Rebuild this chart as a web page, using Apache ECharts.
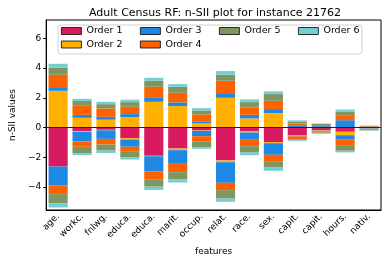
<!DOCTYPE html>
<html>
<head>
<meta charset="utf-8">
<script src="https://cdn.jsdelivr.net/npm/echarts@6/dist/echarts.min.js"></script>
<style>html,body{margin:0;padding:0;background:#fff}#c{width:388px;height:264px}</style>
</head>
<body>
<div id="c"></div>
<script>
const features = ['age.','workc.','fnlwg.','educa.','educa.','marit.','occup.','relat.','race.','sex.','capit.','capit.','hours.','nativ.'];
const orderNames = ['Order 1','Order 2','Order 3','Order 4','Order 5','Order 6'];
const orderColors = ['#D81B60','#FFB000','#1E88E5','#FE6100','#7F975F','#74CED2'];
const yTicks = [-4,-2,0,2,4,6];

// positive and negative contributions per order
const order1Pos = [0,0,0,0,0,0,0,0,0,0,0,0,0,0];
const order1Neg = [-2.63,-0.25,-0.16,-0.72,-1.91,-1.42,-0.20,-2.22,-0.27,-0.99,-0.52,-0.18,-0.29,-0.05];
const order2Pos = [2.47,0.65,0.52,0.70,1.73,1.44,0.27,2.00,0.61,0.97,0,0.03,0,0.01];
const order2Neg = [0,-0.05,-0.03,-0.09,-0.03,-0.11,-0.03,-0.12,-0.07,-0.07,-0.03,-0.04,-0.23,-0.02];
const order3Pos = [0.25,0.20,0.20,0.20,0.31,0.25,0.11,0.31,0.24,0.27,0.15,0.06,0.49,0.03];
const order3Neg = [-1.26,-0.64,-0.58,-0.49,-1.03,-0.92,-0.36,-1.39,-0.49,-0.78,-0.05,-0.04,-0.27,-0.03];
const order4Pos = [0.83,0.61,0.56,0.49,0.70,0.65,0.50,0.84,0.50,0.56,0.12,0.07,0.29,0.03];
const order4Neg = [-0.60,-0.36,-0.38,-0.34,-0.52,-0.56,-0.36,-0.49,-0.43,-0.47,-0.20,-0.08,-0.45,-0.05];
const order5Pos = [0.47,0.32,0.29,0.32,0.41,0.40,0.27,0.40,0.36,0.45,0.14,0.08,0.27,0.04];
const order5Neg = [-0.63,-0.43,-0.41,-0.36,-0.50,-0.47,-0.38,-0.57,-0.43,-0.39,-0.06,-0.06,-0.33,-0.05];
const order6Pos = [0.27,0.15,0.16,0.16,0.20,0.18,0.15,0.25,0.18,0.18,0.07,0.03,0.16,0.02];
const order6Neg = [-0.27,-0.14,-0.16,-0.16,-0.22,-0.23,-0.11,-0.22,-0.18,-0.22,-0.06,-0.03,-0.11,-0.02];

const posData = [order1Pos,order2Pos,order3Pos,order4Pos,order5Pos,order6Pos];
const negData = [order1Neg,order2Neg,order3Neg,order4Neg,order5Neg,order6Neg];

const FONT = 'DejaVu Sans';
const series = [];
for (let k = 0; k < 6; k++) {
  [posData[k], negData[k]].forEach(function (d) {
    series.push({
      type: 'bar', name: orderNames[k], stack: 'n', data: d,
      barWidth: '80%',
      itemStyle: { color: orderColors[k] },
      emphasis: { disabled: true },
      animation: false
    });
  });
}
series[0].markLine = {
  silent: true, symbol: 'none', animation: false,
  label: { show: false },
  lineStyle: { color: '#222', width: 1.2, type: 'solid' },
  data: [{ yAxis: 0 }]
};
series[0].z = 2;

const legendCols = [61, 140, 219, 298];
const legendRows = [26, 39.5];
const legendPos = [[0,0],[0,1],[1,0],[1,1],[2,0],[3,0]];
const legends = orderNames.map(function (n, i) {
  return {
    data: [n], left: legendCols[legendPos[i][0]], top: legendRows[legendPos[i][1]],
    padding: 0, itemWidth: 20, itemHeight: 7, icon: 'rect', selectedMode: false, z: 20,
    itemStyle: { borderColor: '#000', borderWidth: 0.8 },
    textStyle: { fontFamily: FONT, fontSize: 9.5, color: '#000' }
  };
});

const chart = echarts.init(document.getElementById('c'), null, { renderer: 'canvas' });
chart.setOption({
  animation: false,
  title: {
    text: 'Adult Census RF: n-SII plot for instance 21762',
    left: 210, top: 3, textAlign: 'center',
    textStyle: { fontFamily: FONT, fontSize: 11, fontWeight: 'normal', color: '#000' }
  },
  legend: legends,
  graphic: [{
    type: 'rect', shape: { x: 58, y: 25, width: 304, height: 29, r: 3 },
    style: { fill: 'rgba(255,255,255,0.8)', stroke: '#d0d0d0', lineWidth: 1 }, z: 3, silent: true
  }],
  grid: { left: 39, right: 7, top: 20, bottom: 54, show: true, borderColor: '#000', borderWidth: 1, backgroundColor: 'transparent' },
  xAxis: {
    type: 'category', data: features,
    name: 'features', nameLocation: 'middle', nameGap: 37,
    nameTextStyle: { fontFamily: FONT, fontSize: 9, color: '#000' },
    axisLine: { onZero: false, lineStyle: { color: '#000', width: 1 } },
    axisTick: { alignWithLabel: true, length: 3, lineStyle: { color: '#000' } },
    axisLabel: { rotate: 45, interval: 0, margin: 5, fontFamily: FONT, fontSize: 9, color: '#000' },
    splitLine: { show: false }
  },
  yAxis: {
    type: 'value', min: -5.56, max: 7.24,
    name: 'n-SII values', nameLocation: 'middle', nameGap: 29,
    nameTextStyle: { fontFamily: FONT, fontSize: 9, color: '#000' },
    axisLine: { show: true, lineStyle: { color: '#000', width: 1 } },
    axisTick: { show: true, length: 3, customValues: yTicks, lineStyle: { color: '#000' } },
    axisLabel: { customValues: yTicks, fontFamily: FONT, fontSize: 9, color: '#000', margin: 5,
      formatter: function (v) { return v < 0 ? '\u2212' + Math.abs(v) : String(v); } },
    splitLine: { show: false }
  },
  series: series
});
</script>
</body>
</html>
